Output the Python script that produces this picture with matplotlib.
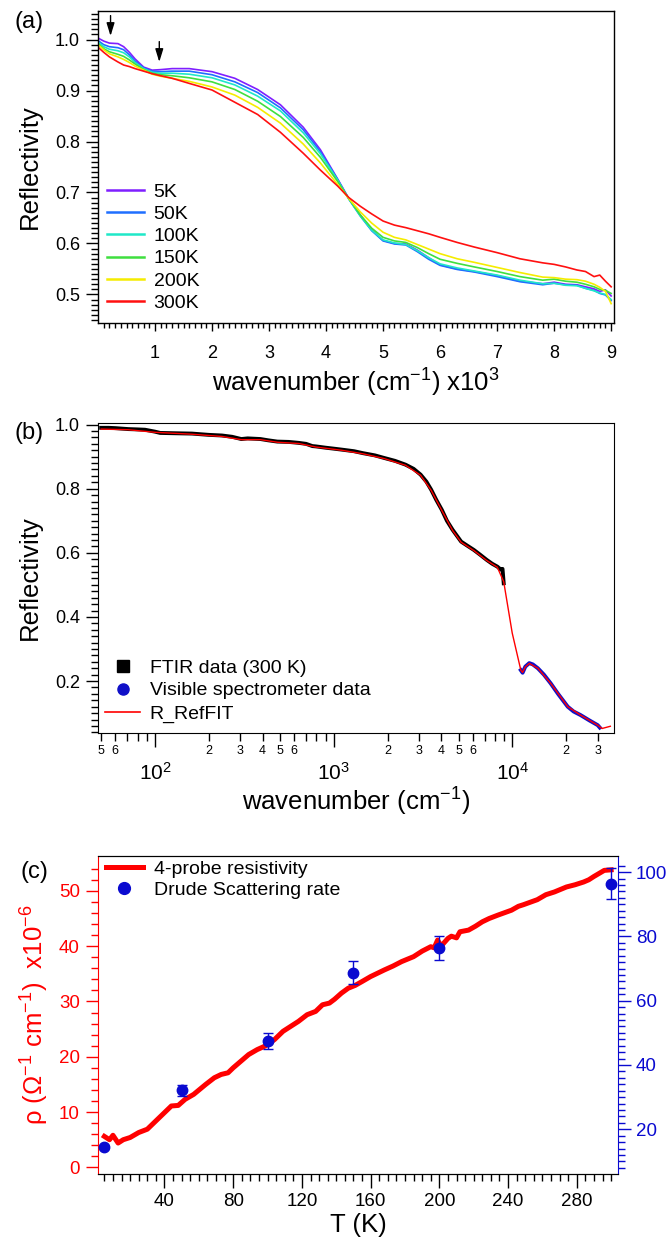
import matplotlib
matplotlib.use("Agg")
import matplotlib.pyplot as plt
import numpy as np
from matplotlib.ticker import FixedLocator, FuncFormatter
from matplotlib.lines import Line2D

plt.rcParams['font.family'] = ['Liberation Sans', 'DejaVu Sans']
plt.rcParams['mathtext.fontset'] = 'custom'
plt.rcParams['mathtext.rm'] = 'Liberation Sans'
plt.rcParams['mathtext.it'] = 'Liberation Sans:italic'

# ---------------- Panel (a) data: reflectivity vs wavenumber (x10^3 cm^-1)
wn_a = [0.0, 0.1, 0.2, 0.35, 0.45, 0.55, 0.65, 0.8, 0.95, 1.1, 1.3, 1.6, 2.0, 2.4, 2.8,
        3.2, 3.6, 3.9, 4.2, 4.4, 4.6, 4.8, 5.0, 5.2, 5.4, 5.6, 5.8, 6.0, 6.3, 6.6,
        7.0, 7.4, 7.8, 8.0, 8.2, 8.4, 8.55, 8.7, 8.8, 8.9, 9.0]
R_5K = [1.003, 0.997, 0.993, 0.992, 0.986, 0.975, 0.962, 0.946, 0.940, 0.941, 0.943, 0.943,
        0.937, 0.924, 0.902, 0.872, 0.828, 0.784, 0.727, 0.688, 0.656, 0.627, 0.606, 0.600,
        0.599, 0.587, 0.572, 0.558, 0.550, 0.545, 0.537, 0.526, 0.521, 0.524, 0.520, 0.519,
        0.515, 0.511, 0.506, 0.509, 0.497]
R_50K = [0.998, 0.990, 0.986, 0.984, 0.980, 0.970, 0.958, 0.944, 0.938, 0.937, 0.938, 0.938,
         0.931, 0.917, 0.896, 0.866, 0.823, 0.780, 0.726, 0.687, 0.654, 0.625, 0.605, 0.599,
         0.597, 0.584, 0.569, 0.557, 0.549, 0.544, 0.535, 0.525, 0.519, 0.522, 0.519, 0.518,
         0.512, 0.508, 0.502, 0.499, 0.488]
R_100K = [0.995, 0.986, 0.981, 0.978, 0.974, 0.966, 0.955, 0.943, 0.936, 0.934, 0.934, 0.932,
          0.925, 0.911, 0.889, 0.860, 0.817, 0.776, 0.725, 0.687, 0.654, 0.626, 0.607, 0.601,
          0.598, 0.586, 0.572, 0.560, 0.552, 0.546, 0.538, 0.528, 0.521, 0.522, 0.518, 0.517,
          0.512, 0.507, 0.503, 0.500, 0.490]
R_150K = [0.992, 0.982, 0.976, 0.971, 0.967, 0.960, 0.952, 0.941, 0.934, 0.931, 0.929, 0.925,
          0.917, 0.902, 0.879, 0.849, 0.808, 0.769, 0.722, 0.688, 0.656, 0.630, 0.612, 0.605,
          0.602, 0.592, 0.580, 0.569, 0.561, 0.554, 0.545, 0.535, 0.528, 0.530, 0.526, 0.524,
          0.520, 0.515, 0.510, 0.508, 0.502]
R_200K = [0.990, 0.980, 0.972, 0.966, 0.961, 0.955, 0.948, 0.940, 0.932, 0.928, 0.924, 0.918,
          0.907, 0.891, 0.867, 0.836, 0.795, 0.758, 0.716, 0.688, 0.662, 0.640, 0.622, 0.612,
          0.607, 0.598, 0.589, 0.580, 0.570, 0.563, 0.553, 0.543, 0.534, 0.533, 0.530, 0.529,
          0.526, 0.520, 0.514, 0.506, 0.482]
R_300K = [0.985, 0.975, 0.966, 0.956, 0.950, 0.947, 0.943, 0.938, 0.933, 0.929, 0.924, 0.914,
          0.901, 0.877, 0.853, 0.818, 0.777, 0.744, 0.713, 0.690, 0.673, 0.658, 0.644, 0.636,
          0.631, 0.625, 0.619, 0.612, 0.602, 0.593, 0.582, 0.570, 0.562, 0.559, 0.554, 0.548,
          0.545, 0.535, 0.538, 0.526, 0.515]
temps_a = ['5K', '50K', '100K', '150K', '200K', '300K']
colors_a = ['#7f1fff', '#1f6fff', '#1fe8c8', '#3fdf3f', '#f5ec00', '#ff1010']

# ---------------- Panel (b) data
ftir_w = [50, 55, 60, 71, 80, 88, 100, 107, 130, 161, 200, 237, 270, 304, 330, 389, 430,
          484, 560, 638, 700, 760, 795, 900, 1000, 1107, 1300, 1455, 1700, 1914, 2200, 2524,
          2800, 3062, 3300, 3509, 3750, 4027, 4300, 4623, 5163, 5600, 6084, 6600, 7178, 7700,
          8230, 8600, 8800, 8936]
ftir_R = [0.990, 0.990, 0.989, 0.986, 0.985, 0.984, 0.978, 0.974, 0.973, 0.972, 0.968, 0.966,
          0.962, 0.955, 0.957, 0.955, 0.951, 0.947, 0.946, 0.943, 0.940, 0.933, 0.932, 0.928,
          0.925, 0.922, 0.917, 0.911, 0.904, 0.896, 0.887, 0.875, 0.862, 0.844, 0.822, 0.797,
          0.765, 0.734, 0.700, 0.672, 0.635, 0.622, 0.609, 0.594, 0.578, 0.566, 0.557, 0.548,
          0.550, 0.505]
vis_w = [11140, 11400, 11800, 12420, 13000, 13870, 15000, 16360, 18000, 20390, 22000, 24040,
         27000, 29980, 30800]
vis_R = [0.234, 0.226, 0.245, 0.256, 0.252, 0.240, 0.220, 0.193, 0.160, 0.120, 0.105, 0.094,
         0.077, 0.0625, 0.055]
fit_w = [50, 71, 100, 161, 237, 304, 389, 484, 638, 795, 1107, 1455, 1914, 2524, 3062, 3509,
         4027, 4623, 5163, 6084, 7178, 8230, 8936, 9970, 11140, 11400, 11800, 12420, 13870,
         16360, 20390, 24040, 29980, 31700, 35300]
fit_R = [0.986, 0.984, 0.976, 0.970, 0.963, 0.953, 0.953, 0.945, 0.941, 0.930, 0.920, 0.909,
         0.894, 0.873, 0.842, 0.795, 0.732, 0.670, 0.633, 0.607, 0.576, 0.555, 0.510, 0.350,
         0.234, 0.227, 0.244, 0.255, 0.240, 0.193, 0.120, 0.094, 0.0625, 0.052, 0.059]

# ---------------- Panel (c) data
T_res = [5, 8, 10, 13, 16, 20, 25, 30, 33, 37, 41, 44, 48, 52, 57, 64, 69, 73, 77, 80, 89,
         94, 99, 104, 109, 118, 123, 128, 132, 136, 139, 143, 147, 151, 155, 160, 168, 173,
         178, 185, 190, 195, 197, 199, 201, 205, 207, 210, 212, 217, 221, 225, 229, 234, 242,
         246, 249, 257, 262, 267, 274, 279, 284, 287, 290, 296, 300]
rho = [5.6, 5.0, 5.8, 4.4, 5.0, 5.4, 6.3, 6.9, 7.8, 9.0, 10.2, 11.1, 11.2, 12.3, 13.2, 15.0,
       16.2, 16.8, 17.1, 18.0, 20.4, 21.3, 22.0, 23.1, 24.6, 26.4, 27.6, 28.2, 29.4, 29.7,
       30.4, 31.5, 32.4, 32.9, 33.6, 34.5, 35.7, 36.4, 37.2, 38.1, 39.1, 39.9, 39.7, 41.1,
       40.0, 41.4, 41.8, 41.5, 42.6, 42.9, 43.6, 44.4, 45.0, 45.6, 46.5, 47.2, 47.5, 48.4,
       49.3, 49.8, 50.7, 51.1, 51.6, 52.0, 52.6, 53.7, 53.8]
T_drude = [5, 50, 100, 150, 200, 300]
gamma = [14.6, 32.2, 47.5, 68.7, 76.4, 96.4]
gamma_err = [0.6, 1.7, 2.5, 3.5, 3.8, 4.9]

W, H = 668, 1242
fig = plt.figure(figsize=(W / 100, H / 100), dpi=100)


def px_axes(l, t, r, b):
    return fig.add_axes([l / W, 1 - b / H, (r - l) / W, (b - t) / H])


def px2ax(box, x, y):
    l, t, r, b = box
    return (x - l) / (r - l), (b - y) / (b - t)


RED = '#ff0000'
BLUE = '#0a0ad0'
LABEL_FS = 18.5
TICK_FS = 13
LEG_FS = 14

# ================= Panel (a)
box_a = (98, 11, 614, 323)
ax = px_axes(*box_a)
for R, lab, c in zip([R_5K, R_50K, R_100K, R_150K, R_200K, R_300K], temps_a, colors_a):
    ax.plot(wn_a, R, color=c, lw=1.2, label=lab)
ax.set_xlim(0.0, 9.05)
ax.set_ylim(0.444, 1.056)
ax.xaxis.set_major_locator(FixedLocator(np.arange(1, 10, 1)))
ax.xaxis.set_minor_locator(FixedLocator(np.arange(0.1, 9.05, 0.1)))
ax.yaxis.set_major_locator(FixedLocator(np.arange(0.5, 1.01, 0.1)))
ax.yaxis.set_minor_locator(FixedLocator(np.arange(0.45, 1.056, 0.01)))
ax.yaxis.set_major_formatter(FuncFormatter(lambda v, p: f"{v:.1f}"))
ax.tick_params(axis='y', which='major', direction='out', length=9, width=1, labelsize=TICK_FS, pad=4)
ax.tick_params(axis='y', which='minor', direction='out', length=5, width=1)
ax.tick_params(axis='x', which='major', direction='out', length=6, width=1, labelsize=TICK_FS, pad=10)
ax.tick_params(axis='x', which='minor', direction='out', length=3.5, width=1)
ax.set_ylabel('Reflectivity', fontsize=LABEL_FS, labelpad=9)
ax.set_xlabel('wavenumber (cm$^{-1}$) x10$^{3}$', fontsize=LABEL_FS, labelpad=3)
for s in ax.spines.values():
    s.set_linewidth(1.0)
arrow_style = dict(arrowstyle='-|>,head_length=0.65,head_width=0.2', color='k', lw=1,
                   mutation_scale=12, shrinkA=0, shrinkB=0)
ax.annotate('', xy=(0.22, 1.007), xytext=(0.22, 1.047), arrowprops=arrow_style)
ax.annotate('', xy=(1.075, 0.956), xytext=(1.075, 0.996), arrowprops=arrow_style)
leg = ax.legend(loc='upper left', bbox_to_anchor=px2ax(box_a, 107, 183), frameon=False,
                fontsize=LEG_FS, handlelength=1.9, handletextpad=0.5, labelspacing=0.24,
                borderpad=0, borderaxespad=0)
for h in leg.get_lines():
    h.set_linewidth(1.8)
fig.text(29 / W, 1 - 22 / H, '(a)', fontsize=17, ha='center', va='center')

# ================= Panel (b)
box_b = (98, 423, 614, 733)
bx = px_axes(*box_b)
bx.set_xscale('log')
bx.plot(ftir_w, ftir_R, color='k', lw=2.8, zorder=2)
bx.plot(vis_w, vis_R, color='#1010c8', lw=2.8, zorder=2)
bx.plot(fit_w, fit_R, color=RED, lw=1.0, zorder=3)
bx.set_xlim(48, 37000)
bx.set_ylim(0.038, 1.005)
bx.yaxis.set_major_locator(FixedLocator([0.2, 0.4, 0.6, 0.8, 1.0]))
bx.yaxis.set_minor_locator(FixedLocator(np.arange(0.04, 1.001, 0.02)))
bx.yaxis.set_major_formatter(FuncFormatter(lambda v, p: f"{v:.1f}"))
bx.xaxis.set_major_locator(FixedLocator([100, 1000, 10000]))
bx.xaxis.set_major_formatter(FuncFormatter(lambda v, p: '10$^{%d}$' % round(np.log10(v))))
minor_w = [m * 10 ** d for d in range(1, 5) for m in range(2, 10) if 48 <= m * 10 ** d <= 37000]
bx.xaxis.set_minor_locator(FixedLocator(minor_w))


def minor_fmt(v, p):
    m = int(round(v / 10 ** np.floor(np.log10(v) + 1e-9)))
    return str(m) if m in (2, 3, 4, 5, 6) else ''


bx.xaxis.set_minor_formatter(FuncFormatter(minor_fmt))
bx.tick_params(axis='y', which='major', direction='out', length=9, width=1, labelsize=TICK_FS, pad=4)
bx.tick_params(axis='y', which='minor', direction='out', length=5, width=1)
bx.tick_params(axis='x', which='major', direction='out', length=10, width=1, labelsize=15, pad=11)
bx.tick_params(axis='x', which='minor', direction='out', length=6, width=1, labelsize=9, pad=3)
bx.set_ylabel('Reflectivity', fontsize=LABEL_FS, labelpad=9)
bx.set_xlabel('wavenumber (cm$^{-1}$)', fontsize=LABEL_FS, labelpad=1)
handles_b = [Line2D([], [], color='k', marker='s', ls='none', ms=8),
             Line2D([], [], color='#1010c8', marker='o', ls='none', ms=8),
             Line2D([], [], color=RED, lw=1.2)]
bx.legend(handles_b, ['FTIR data (300 K)', 'Visible spectrometer data', 'R_RefFIT'],
          loc='upper left', bbox_to_anchor=px2ax(box_b, 105, 659), frameon=False,
          fontsize=LEG_FS, handlelength=1.8, handletextpad=0.5, labelspacing=0.27,
          borderpad=0, borderaxespad=0)
fig.text(29 / W, 1 - 433 / H, '(b)', fontsize=17, ha='center', va='center')

# ================= Panel (c)
box_c = (98, 856, 618, 1174)
cx = px_axes(*box_c)
cx2 = cx.twinx()
cx.plot(T_res, rho, color=RED, lw=3.6, label='4-probe resistivity', zorder=3)
cx2.errorbar(T_drude, gamma, yerr=gamma_err, fmt='o', color=BLUE, ms=7.5, elinewidth=1,
             capsize=3.5, capthick=1, label='Drude Scattering rate', zorder=4)
cx.set_xlim(1.3, 304)
cx.set_ylim(-1.2, 56.3)
cx2.set_ylim(6.1, 105)
cx.xaxis.set_major_locator(FixedLocator(np.arange(40, 281, 40)))
cx.xaxis.set_minor_locator(FixedLocator(np.arange(5, 301, 5)))
cx.yaxis.set_major_locator(FixedLocator(np.arange(0, 51, 10)))
cx.yaxis.set_minor_locator(FixedLocator(np.arange(0, 55, 2)))
cx2.yaxis.set_major_locator(FixedLocator(np.arange(20, 101, 20)))
cx2.yaxis.set_minor_locator(FixedLocator(np.arange(8, 103, 2)))
cx.tick_params(axis='x', which='major', direction='out', length=10, width=1, labelsize=13.5, pad=4)
cx.tick_params(axis='x', which='minor', direction='out', length=5, width=1)
cx.tick_params(axis='y', which='major', direction='out', length=9, width=1, labelsize=13.5,
               colors=RED, pad=4)
cx.tick_params(axis='y', which='minor', direction='out', length=5, width=1, colors=RED)
cx2.tick_params(axis='y', which='major', direction='out', length=9, width=1, labelsize=13.5,
                colors=BLUE, pad=4)
cx2.tick_params(axis='y', which='minor', direction='out', length=5, width=1, colors=BLUE)
cx.spines['left'].set_color(RED)
cx.spines['right'].set_visible(False)
cx2.spines['left'].set_visible(False)
cx2.spines['right'].set_color(BLUE)
cx.set_xlabel('T (K)', fontsize=LABEL_FS, labelpad=2)
cx.set_ylabel('ρ (Ω$^{-1}$ cm$^{-1}$)  x10$^{-6}$', fontsize=LABEL_FS, color=RED, labelpad=6)
handles_c = [Line2D([], [], color=RED, lw=3.6),
             Line2D([], [], color=BLUE, marker='o', ls='none', ms=8.5)]
cx.legend(handles_c, ['4-probe resistivity', 'Drude Scattering rate'], loc='upper left',
          bbox_to_anchor=px2ax(box_c, 106, 860), frameon=False, fontsize=LEG_FS,
          handlelength=1.9, handletextpad=0.55, labelspacing=0.2, borderpad=0, borderaxespad=0)
fig.text(34 / W, 1 - 872 / H, '(c)', fontsize=17, ha='center', va='center')

fig.savefig('out.png', dpi=100)
